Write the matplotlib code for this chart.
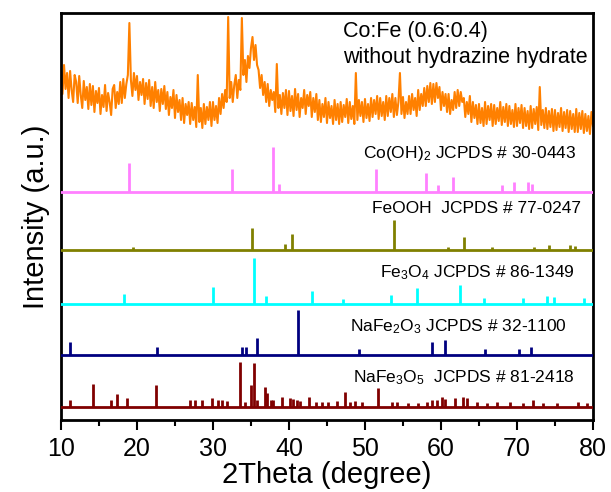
import numpy as np
import matplotlib
matplotlib.use("Agg")
import matplotlib.pyplot as plt
from matplotlib.ticker import MultipleLocator

plt.rcParams['font.family'] = ['Liberation Sans', 'DejaVu Sans']
plt.rcParams['mathtext.fontset'] = 'custom'
plt.rcParams['mathtext.rm'] = 'Liberation Sans'
plt.rcParams['mathtext.default'] = 'regular'

# ---------------- data ----------------
# measured pattern (2theta from 10 to 80 in 0.2 deg steps), arbitrary units
sample_start = 10.0
sample_step = 0.2
sample_intensity = [
    352, 326, 355, 331, 347,  322, 349, 330, 318, 345,
    338, 317, 344, 325, 312,  339, 320, 333, 311, 336,
    315, 334, 308, 329, 317,  332, 306, 325, 313, 335,
    309, 327, 318, 305, 331,  335, 312, 328, 316, 338,
    317, 341, 322, 336, 345,  397, 340, 324, 347, 330,
    344, 320, 338, 325, 341,  316, 337, 321, 340, 314,
    333, 312, 338, 318, 330,  309, 331, 316, 334, 311,
    328, 305, 323, 312, 330,  302, 325, 308, 320, 300,
    322, 297, 316, 305, 318,  296, 317, 300, 313, 293,
    345, 298, 312, 292, 316,  296, 313, 300, 318, 294,
    318, 300, 314, 297, 322,  306, 326, 312, 330, 318,
    403, 322, 338, 318, 335,  345, 322, 340, 330, 402,
    345, 360, 338, 364, 352,  372, 383, 360, 375, 355,
    350, 332, 345, 325, 338,  318, 336, 314, 330, 320,
    328, 308, 356, 312, 325,  306, 327, 312, 330, 305,
    329, 309, 324, 304, 331,  310, 326, 303, 322, 312,
    330, 306, 325, 314, 328,  303, 322, 308, 326, 300,
    320, 298, 316, 303, 322,  297, 318, 302, 314, 296,
    320, 300, 316, 296, 318,  298, 315, 303, 321, 297,
    318, 301, 314, 296, 347,  300, 320, 304, 318, 298,
    321, 302, 316, 299, 322,  303, 320, 306, 324, 301,
    322, 304, 318, 300, 324,  304, 322, 308, 326, 303,
    322, 305, 318, 347, 306,  323, 302, 318, 306, 324,
    306, 326, 310, 322, 304,  330, 310, 326, 314, 332,
    314, 334, 318, 337, 316,  336, 318, 337, 322, 333,
    310, 328, 314, 326, 308,  326, 306, 320, 310, 328,
    312, 330, 314, 328, 318,  322, 303, 318, 306, 324,
    298, 318, 302, 315, 296,  316, 297, 312, 294, 318,
    296, 314, 300, 316, 294,  315, 296, 312, 299, 318,
    295, 313, 298, 316, 294,  314, 296, 310, 293, 316,
    294, 312, 297, 315, 292,  312, 294, 309, 291, 314,
    292, 311, 296, 313, 290,  333, 295, 310, 292, 312,
    291, 309, 293, 311, 289,  310, 290, 307, 293, 312,
    289, 308, 292, 310, 288,  309, 291, 306, 288, 311,
    288, 307, 291, 309, 287,  306, 289, 304, 286, 308,
    294,
]

# reference stick patterns: positions (2theta) and relative heights
cooh2_pos = [19.0, 32.5, 37.9, 38.7, 51.4, 58.0, 59.6, 61.6, 68.0, 69.6, 71.4, 72.0]
cooh2_int = [29, 23, 45, 8, 23, 19, 7, 15, 7, 10, 10, 8]

feooh_pos = [19.5, 35.1, 39.5, 40.4, 53.8, 60.9, 63.0, 66.7, 72.2, 74.2, 77.0, 77.6]
feooh_int = [3, 22, 6, 16, 30, 3, 13, 3, 3, 5, 5, 4]

fe3o4_pos = [18.3, 30.0, 35.4, 37.0, 43.0, 47.1, 53.4, 56.9, 62.5, 65.7, 70.8, 73.9, 74.9, 78.8]
fe3o4_int = [10, 17, 46, 8, 13, 5, 9, 16, 19, 6, 6, 8, 7, 6]

nafe2o3_pos = [11.2, 22.6, 33.8, 34.4, 35.8, 41.2, 49.2, 58.8, 60.5, 65.8, 70.3, 71.8]
nafe2o3_int = [13, 8, 8, 8, 17, 45, 6, 13, 15, 6, 6, 8]

nafe3o5_pos = [11.2, 14.2, 16.6, 17.4, 18.7, 22.5, 27.0, 27.6, 28.6, 29.9, 30.7, 31.2,
               31.9, 33.6, 34.2, 35.0, 35.4, 35.8, 36.8, 37.1, 37.6, 37.9, 39.1, 40.1,
               40.5, 41.0, 41.4, 42.6, 43.5, 44.3, 45.1, 46.3, 47.4, 48.0, 48.7, 49.6,
               51.7, 53.6, 54.2, 55.7, 57.0, 58.2, 58.8, 59.5, 60.1, 60.5, 61.8, 62.9,
               63.4, 64.7, 66.1, 67.4, 69.1, 70.8, 72.1, 73.4, 75.3, 78.0, 79.2]
nafe3o5_int = [7, 23, 7, 13, 9, 22, 7, 7, 7, 9, 7, 7,
               6, 45, 5, 22, 44, 7, 20, 14, 7, 7, 10, 9,
               8, 7, 6, 10, 5, 5, 5, 6, 15, 5, 6, 5,
               19, 5, 5, 4, 4, 5, 7, 7, 10, 8, 9, 10,
               9, 5, 4, 5, 5, 4, 7, 4, 4, 5, 4]

labels = ["Co(OH)$_2$ JCPDS # 30-0443",
          "FeOOH  JCPDS # 77-0247",
          "Fe$_3$O$_4$ JCPDS # 86-1349",
          "NaFe$_2$O$_3$ JCPDS # 32-1100",
          "NaFe$_3$O$_5$  JCPDS # 81-2418"]
sample_text = ["Co:Fe (0.6:0.4)", "without hydrazine hydrate"]
xticks = [10, 20, 30, 40, 50, 60, 70, 80]

# ---------------- plot ----------------
fig = plt.figure(figsize=(6.11, 4.92), dpi=100)
ax = fig.add_axes([0.0998, 0.1463, 0.8707, 0.8273])

x_sample = sample_start + sample_step * np.arange(len(sample_intensity))
ax.plot(x_sample, sample_intensity, color='#FF8000', lw=1.5)

patterns = [
    (cooh2_pos, cooh2_int, '#FF80FF', 228, (49.7, 262)),
    (feooh_pos, feooh_int, '#808000', 170, (50.9, 207)),
    (fe3o4_pos, fe3o4_int, '#00FFFF', 116, (52.0, 143)),
    (nafe2o3_pos, nafe2o3_int, '#000080', 65, (48.0, 89)),
    (nafe3o5_pos, nafe3o5_int, '#800000', 13, (48.4, 38)),
]
for (pos, inten, col, base, tpos), lab in zip(patterns, labels):
    ax.axhline(base, color=col, lw=2.0, zorder=3)
    ax.vlines(pos, base, np.array(inten) + base, color=col, lw=2.0, zorder=3)
    ax.text(tpos[0], tpos[1], lab, fontsize=12.5, ha='left', va='baseline')

ax.text(47.1, 383, sample_text[0], fontsize=15.5, ha='left', va='baseline')
ax.text(47.1, 357, sample_text[1], fontsize=15.5, ha='left', va='baseline')

ax.set_xlim(10, 80)
ax.set_ylim(0, 407)
ax.set_xticks(xticks)
ax.xaxis.set_minor_locator(MultipleLocator(5))
ax.tick_params(axis='x', which='major', direction='out', length=7, width=1.5,
               labelsize=18, pad=5)
ax.tick_params(axis='x', which='minor', direction='out', length=4, width=1.5)
ax.set_yticks([])
for s in ax.spines.values():
    s.set_linewidth(2.0)

ax.set_xlabel("2Theta (degree)", fontsize=21, labelpad=0)
ax.set_ylabel("Intensity (a.u.)", fontsize=21, labelpad=8)

fig.savefig("out.png", dpi=100)
